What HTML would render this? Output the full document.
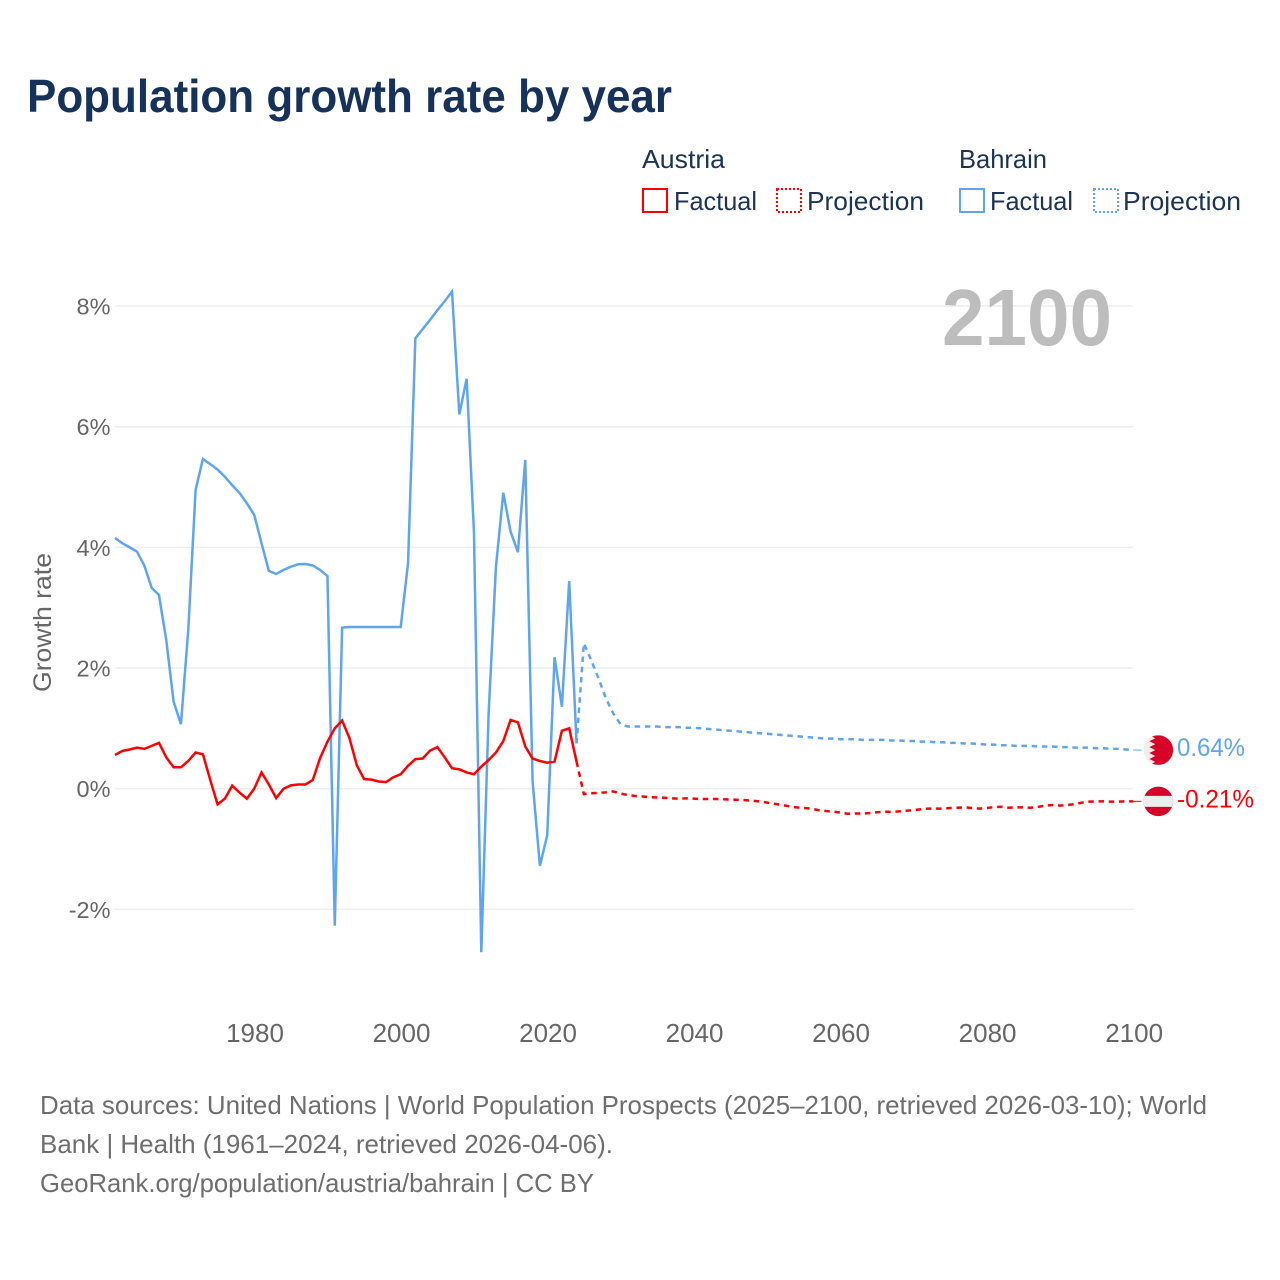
<!DOCTYPE html>
<html lang="en">
<head>
<meta charset="utf-8">
<title>Population growth rate by year</title>
<style>
html,body{margin:0;padding:0;background:#fff;}
svg{display:block;}
text{font-family:"Liberation Sans",sans-serif;}
</style>
</head>
<body>
<svg id="chart" xmlns="http://www.w3.org/2000/svg" width="1280" height="1280" viewBox="0 0 1280 1280">
  <rect x="0" y="0" width="1280" height="1280" fill="#ffffff"/>
  <text x="27" y="112" font-size="46" font-weight="700" fill="#17325a" textLength="645" lengthAdjust="spacingAndGlyphs">Population growth rate by year</text>

  <g font-size="26" fill="#1c3355">
    <text x="642" y="168" textLength="83" lengthAdjust="spacingAndGlyphs">Austria</text>
    <rect x="643" y="189" width="24" height="23" fill="none" stroke="#ff0000" stroke-width="2"/>
    <text x="674" y="210" textLength="83" lengthAdjust="spacingAndGlyphs">Factual</text>
    <rect x="777" y="189" width="24" height="23" fill="none" stroke="#ff0000" stroke-width="2" stroke-dasharray="2 2"/>
    <text x="807" y="210" textLength="117" lengthAdjust="spacingAndGlyphs">Projection</text>
    <text x="959" y="168" textLength="88" lengthAdjust="spacingAndGlyphs">Bahrain</text>
    <rect x="960" y="189" width="24" height="23" fill="none" stroke="#5fa5ee" stroke-width="2"/>
    <text x="990" y="210" textLength="83" lengthAdjust="spacingAndGlyphs">Factual</text>
    <rect x="1094" y="189" width="24" height="23" fill="none" stroke="#5fa5ee" stroke-width="2" stroke-dasharray="2 2"/>
    <text x="1123" y="210" textLength="118" lengthAdjust="spacingAndGlyphs">Projection</text>
  </g>

  <g id="grid"></g>
  <g id="y-axis"></g>
  <g id="x-axis"></g>
  <text transform="translate(51 692) rotate(-90)" font-size="25" fill="#666666" textLength="139" lengthAdjust="spacingAndGlyphs">Growth rate</text>
  <text x="942" y="345" font-size="80" font-weight="700" fill="#bdbdbd" textLength="170" lengthAdjust="spacingAndGlyphs">2100</text>

  <g id="series"></g>
  <g id="flags"></g>

  <g font-size="26" fill="#6e6e6e">
    <text x="40" y="1114" textLength="1167" lengthAdjust="spacingAndGlyphs">Data sources: United Nations | World Population Prospects (2025–2100, retrieved 2026-03-10); World</text>
    <text x="40" y="1153" textLength="573" lengthAdjust="spacingAndGlyphs">Bank | Health (1961–2024, retrieved 2026-04-06).</text>
    <text x="40" y="1192" textLength="554" lengthAdjust="spacingAndGlyphs">GeoRank.org/population/austria/bahrain | CC BY</text>
  </g>
</svg>
<script>
var factualStartYear = 1961;
var projectionStartYear = 2024;
var yTickValues = [8, 6, 4, 2, 0, -2];
var xTickYears = [1980, 2000, 2020, 2040, 2060, 2080, 2100];

var bahrainFactual = [4.155,4.07,4.0,3.93,3.7,3.33,3.21,2.46,1.44,1.07,2.63,4.95,5.465,5.38,5.29,5.17,5.03,4.9,4.73,4.54,4.07,3.61,3.56,3.625,3.68,3.72,3.725,3.7,3.625,3.525,-2.27,2.67,2.68,2.68,2.68,2.68,2.68,2.68,2.68,2.68,3.74,7.465,7.62,7.77,7.93,8.08,8.24,6.205,6.795,4.25,-2.71,1.25,3.68,4.905,4.26,3.92,5.45,0.12,-1.28,-0.77,2.18,1.36,3.44,0.75];
var bahrainProjection = [0.75,2.41,2.13,1.83,1.5,1.25,1.07,1.03,1.03,1.03,1.03,1.03,1.02,1.02,1.02,1.01,1.01,1.0,0.99,0.98,0.97,0.96,0.95,0.94,0.93,0.92,0.91,0.9,0.89,0.88,0.87,0.86,0.85,0.84,0.83,0.83,0.82,0.82,0.82,0.81,0.81,0.81,0.81,0.8,0.8,0.79,0.79,0.78,0.78,0.77,0.77,0.76,0.76,0.75,0.75,0.74,0.73,0.73,0.72,0.72,0.71,0.71,0.71,0.7,0.7,0.7,0.69,0.69,0.68,0.68,0.68,0.67,0.67,0.66,0.66,0.65,0.64];
var austriaFactual = [0.56,0.625,0.65,0.68,0.66,0.71,0.76,0.52,0.355,0.355,0.46,0.6,0.57,0.145,-0.26,-0.165,0.05,-0.065,-0.165,0.0,0.27,0.07,-0.155,0.0,0.055,0.07,0.07,0.145,0.51,0.78,1.0,1.13,0.84,0.39,0.16,0.15,0.12,0.11,0.19,0.24,0.38,0.49,0.5,0.63,0.69,0.52,0.34,0.32,0.27,0.24,0.365,0.475,0.6,0.79,1.14,1.1,0.7,0.5,0.46,0.43,0.45,0.96,1.0,0.45];
var austriaProjection = [0.45,-0.09,-0.075,-0.07,-0.06,-0.045,-0.08,-0.105,-0.12,-0.13,-0.14,-0.145,-0.15,-0.16,-0.165,-0.16,-0.165,-0.17,-0.17,-0.17,-0.175,-0.18,-0.185,-0.19,-0.2,-0.21,-0.23,-0.25,-0.27,-0.29,-0.31,-0.32,-0.33,-0.355,-0.37,-0.38,-0.395,-0.415,-0.41,-0.41,-0.405,-0.39,-0.38,-0.385,-0.375,-0.365,-0.355,-0.34,-0.33,-0.33,-0.33,-0.32,-0.315,-0.31,-0.32,-0.33,-0.32,-0.305,-0.3,-0.315,-0.31,-0.31,-0.315,-0.3,-0.28,-0.27,-0.28,-0.27,-0.255,-0.23,-0.215,-0.21,-0.21,-0.215,-0.215,-0.21,-0.21];
var bahrainEndLabel = '0.64%';
var austriaEndLabel = '-0.21%';

var SVGNS = 'http://www.w3.org/2000/svg';
var BLUE = '#5fa5ee';
var RED = '#ff0000';
var LINE_W = 2.5;

function xScale(year) { return 115 + (year - 1961) * 7.326; }
function yScale(value) { return 788.7 - value * 60.33; }

function make(tag, parent, attrs) {
  var el = document.createElementNS(SVGNS, tag);
  for (var k in attrs) { el.setAttribute(k, attrs[k]); }
  parent.appendChild(el);
  return el;
}

function pathFor(values, startYear) {
  return values.map(function (v, i) {
    return (i ? 'L' : 'M') + xScale(startYear + i).toFixed(2) + ' ' + yScale(v).toFixed(2);
  }).join(' ');
}

var gridG = document.getElementById('grid');
var yG = document.getElementById('y-axis');
yTickValues.forEach(function (v) {
  var line = make('line', gridG, { x1: 115, x2: 1133, y1: yScale(v), y2: yScale(v), stroke: '#eeeeee', 'stroke-width': 1.5 });
  
  
  var t = make('text', yG, { x: 110.5, y: yScale(v) + 8.5, 'text-anchor': 'end', 'font-size': 23.5, fill: '#666666' });
  
  
  t.textContent = v + '%';
});

var xG = document.getElementById('x-axis');
xTickYears.forEach(function (yr) {
  var t = make('text', xG, { x: xScale(yr) + 0.8, y: 1042, 'text-anchor': 'middle', 'font-size': 26, fill: '#666666' });
  
  
  t.textContent = yr;
});

var seriesG = document.getElementById('series');

var bahrainProjLine = make('path', seriesG, { d: pathFor(bahrainProjection, projectionStartYear), fill: 'none', stroke: BLUE, 'stroke-width': LINE_W, 'stroke-dasharray': '5.5 4.7' });



var bahrainLine = make('path', seriesG, { d: pathFor(bahrainFactual, factualStartYear), fill: 'none', stroke: BLUE, 'stroke-width': LINE_W, 'stroke-linejoin': 'miter' });



var austriaProjLine = make('path', seriesG, { d: pathFor(austriaProjection, projectionStartYear), fill: 'none', stroke: RED, 'stroke-width': LINE_W, 'stroke-dasharray': '5.5 4.7' });



var austriaLine = make('path', seriesG, { d: pathFor(austriaFactual, factualStartYear), fill: 'none', stroke: RED, 'stroke-width': LINE_W, 'stroke-linejoin': 'miter' });



var flagsG = document.getElementById('flags');
var flagX = 1158.3;
var flagR = 14.8;
var bahrainEndValue = bahrainProjection[bahrainProjection.length - 1];
var austriaEndValue = austriaProjection[austriaProjection.length - 1];
var bahrainY = yScale(bahrainEndValue);
var austriaY = yScale(austriaEndValue);
var lastX = xScale(2100);

var bahrainConnector = make('line', flagsG, { x1: lastX, x2: flagX - flagR - 2, y1: bahrainY, y2: bahrainY, stroke: BLUE, 'stroke-width': 1 });


var austriaConnector = make('line', flagsG, { x1: lastX, x2: flagX - flagR - 2, y1: austriaY, y2: austriaY, stroke: RED, 'stroke-width': 1 });



var bahrainFlag = make('g', flagsG, {});


make('circle', bahrainFlag, { cx: flagX, cy: bahrainY, r: flagR, fill: '#eeeeee' });
var bClip = make('clipPath', bahrainFlag, { id: 'bahrain-clip' });
make('circle', bClip, { cx: flagX, cy: bahrainY, r: flagR });
var bTop = bahrainY - flagR;
var zig = 'M' + (flagX + flagR + 1) + ' ' + bTop + ' L' + (flagX - 9) + ' ' + bTop;
var zigCount = 5;
for (var zi = 0; zi < zigCount; zi++) {
  var step = 2 * flagR / zigCount;
  zig += ' L' + (flagX - 3) + ' ' + (bTop + step * (zi + 0.5)) + ' L' + (flagX - 9) + ' ' + (bTop + step * (zi + 1));
}
zig += ' L' + (flagX + flagR + 1) + ' ' + (bahrainY + flagR) + ' Z';
make('path', bahrainFlag, { d: zig, fill: '#d80027', 'clip-path': 'url(#bahrain-clip)' });

var austriaFlag = make('g', flagsG, {});


make('circle', austriaFlag, { cx: flagX, cy: austriaY, r: flagR, fill: '#d80027' });
var aClip = make('clipPath', austriaFlag, { id: 'austria-clip' });
make('circle', aClip, { cx: flagX, cy: austriaY, r: flagR });
make('rect', austriaFlag, { x: flagX - flagR, y: austriaY - 5.5, width: 2 * flagR, height: 11, fill: '#eeeeee', 'clip-path': 'url(#austria-clip)' });

var bLabel = make('text', flagsG, { x: 1177, y: bahrainY + 6, 'font-size': 25, fill: BLUE, textLength: 68, lengthAdjust: 'spacingAndGlyphs' });


bLabel.textContent = bahrainEndLabel;
var aLabel = make('text', flagsG, { x: 1177, y: austriaY + 6, 'font-size': 25, fill: RED, textLength: 77, lengthAdjust: 'spacingAndGlyphs' });


aLabel.textContent = austriaEndLabel;
</script>
</body>
</html>
